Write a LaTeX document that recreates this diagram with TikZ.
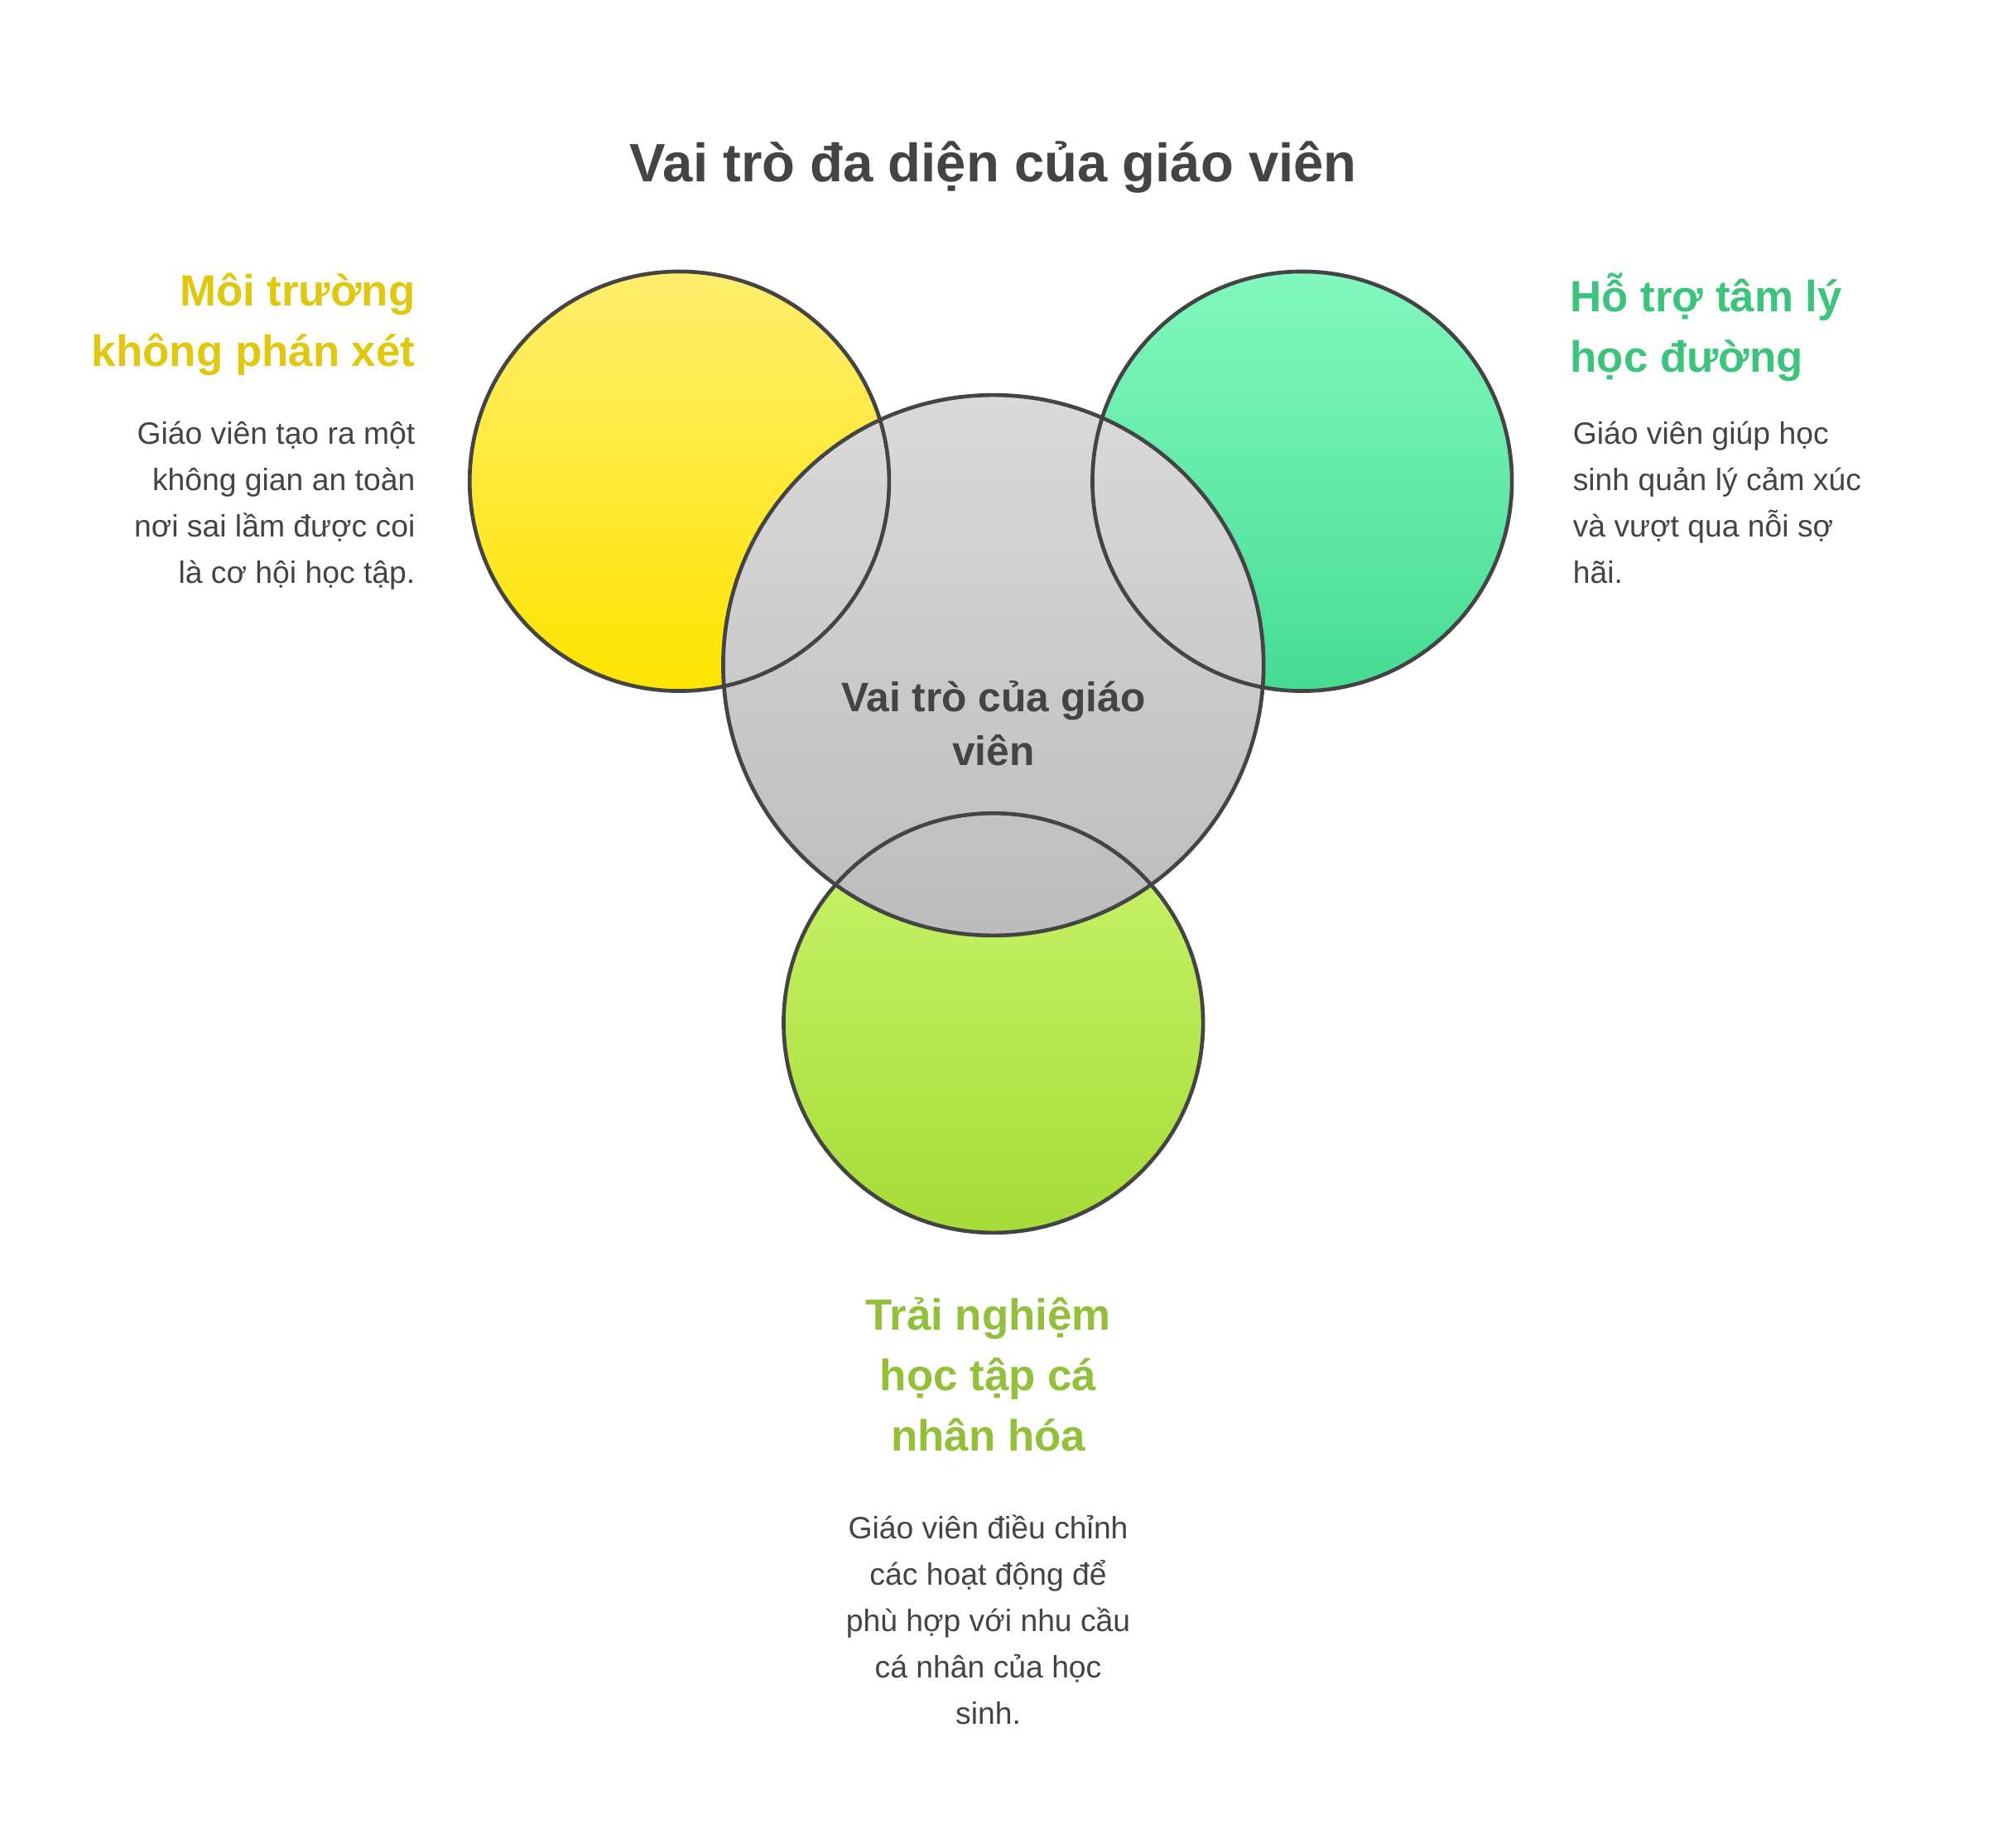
\documentclass[tikz,border=0pt]{standalone}
\usepackage{fontspec}
\setmainfont{Liberation Sans}
\begin{document}
\begin{tikzpicture}[x=0.5pt,y=-0.5pt,
  ring/.style={draw=outl,line width=1.5pt},
  head/.style={font=\bfseries\fontsize{17}{23.5}\selectfont,inner sep=0pt},
  body/.style={font=\fontsize{12}{18}\selectfont,text=txt,inner sep=0pt}]
\definecolor{outl}{HTML}{444444}
\definecolor{txt}{HTML}{444444}
\definecolor{hy}{HTML}{DFC80E}
\definecolor{hg}{HTML}{3CC47C}
\definecolor{hl}{HTML}{93C03A}
\useasboundingbox (0,0) rectangle (1552,1436);
\fill[white] (0,0) rectangle (1552,1436);
\node[font=\bfseries\fontsize{21}{25}\selectfont,text=txt] (title) at (772,130) {Vai trò đa diện của giáo viên};
% fills
\shade[top color={rgb,255:red,255;green,238;blue,110},bottom color={rgb,255:red,255;green,229;blue,0}] (528,374) circle (163);
\shade[top color={rgb,255:red,130;green,248;blue,190},bottom color={rgb,255:red,70;green,220;blue,148}] (1012,374) circle (163);
\shade[top color={rgb,255:red,202;green,244;blue,108},bottom color={rgb,255:red,166;green,220;blue,56}] (772,795) circle (163);
\shade[top color={rgb,255:red,218;green,218;blue,218},bottom color={rgb,255:red,188;green,188;blue,188}] (772,517) circle (210);
% outlines
\node[circle,ring,minimum size=163pt,inner sep=0pt] (cy) at (528,374) {};
\node[circle,ring,minimum size=163pt,inner sep=0pt] (cg) at (1012,374) {};
\node[circle,ring,minimum size=163pt,inner sep=0pt] (cl) at (772,795) {};
\node[circle,ring,minimum size=210pt,inner sep=0pt,align=center,font=\bfseries\fontsize{16}{21}\selectfont,text=txt] (cc) at (772,517) {};
\node[align=center,font=\bfseries\fontsize{16}{21}\selectfont,text=txt] (ct) at (772,562) {Vai trò của giáo\\viên};
% left
\node[head,text=hy,align=right,anchor=north east] (hy1) at (323,212) {Môi trường\\không phán xét};
\node[body,align=right,anchor=north east] (by1) at (323,327) {Giáo viên tạo ra một\\không gian an toàn\\nơi sai lầm được coi\\là cơ hội học tập.};
% right
\node[head,text=hg,align=left,anchor=north west] (hg1) at (1220,212) {Hỗ trợ tâm lý\\học đường};
\node[body,align=left,anchor=north west] (bg1) at (1222,327) {Giáo viên giúp học\\sinh quản lý cảm xúc\\và vượt qua nỗi sợ\\hãi.};
% bottom
\node[head,text=hl,align=center,anchor=north] (hl1) at (768,1008) {Trải nghiệm\\học tập cá\\nhân hóa};
\node[body,align=center,anchor=north] (bl1) at (768,1177) {Giáo viên điều chỉnh\\các hoạt động để\\phù hợp với nhu cầu\\cá nhân của học\\sinh.};
\end{tikzpicture}
\end{document}
